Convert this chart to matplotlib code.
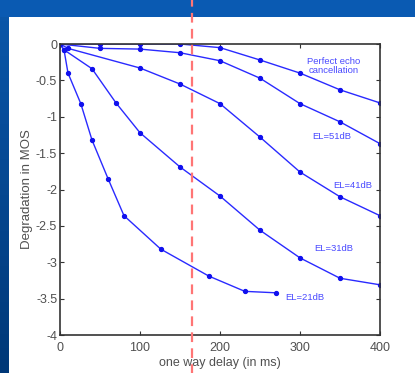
import numpy as np
import matplotlib
matplotlib.use('Agg')
import matplotlib.pyplot as plt
from matplotlib.patches import Rectangle

plt.rcParams['font.family'] = ['Liberation Sans', 'DejaVu Sans']
plt.rcParams['axes.unicode_minus'] = False
plt.rcParams['lines.scale_dashes'] = False

# data (delay in ms, degradation in MOS)
perfect_x = [0, 50, 100, 150, 200, 250, 300, 350, 400]
perfect_y = [0, 0, 0, 0, -0.05, -0.22, -0.40, -0.63, -0.81]

el51_x = [0, 50, 100, 150, 200, 250, 300, 350, 400]
el51_y = [0, -0.06, -0.07, -0.12, -0.23, -0.47, -0.82, -1.07, -1.37]

el41_x = [0, 10, 100, 150, 200, 250, 300, 350, 400]
el41_y = [0, -0.06, -0.33, -0.55, -0.82, -1.28, -1.76, -2.10, -2.36]

el31_x = [0, 5, 40, 70, 100, 150, 200, 250, 300, 350, 400]
el31_y = [0, -0.08, -0.34, -0.81, -1.22, -1.69, -2.09, -2.56, -2.94, -3.22, -3.31]

el21_x = [0, 5, 10, 26, 40, 60, 80, 126, 186, 231, 270]
el21_y = [0, -0.08, -0.40, -0.82, -1.32, -1.85, -2.36, -2.82, -3.19, -3.40, -3.42]

series = [(perfect_x, perfect_y), (el51_x, el51_y), (el41_x, el41_y),
          (el31_x, el31_y), (el21_x, el21_y)]

labels = ['Perfect echo\ncancellation', 'EL=51dB', 'EL=41dB', 'EL=31dB', 'EL=21dB']
label_pos = [(342, -0.30), (340, -1.27), (366, -1.94), (342, -2.81), (306, -3.49)]

xticks = [0, 100, 200, 300, 400]
yticks = [0, -0.5, -1, -1.5, -2, -2.5, -3, -3.5, -4]
ytick_labels = ['0', '-0.5', '-1', '-1.5', '-2', '-2.5', '-3', '-3.5', '-4']

marker_delay = 165

fig = plt.figure(figsize=(4.15, 3.73), dpi=100)
fig.patch.set_facecolor('white')

# blue slide frame
fig.patches.append(Rectangle((0, 1 - 17 / 373), 1, 17 / 373, transform=fig.transFigure,
                             facecolor='#0a5ab2', edgecolor='none', zorder=-2))
sax = fig.add_axes([0, 0, 8 / 415, 1 - 17 / 373], zorder=-1)
grad = np.linspace(0, 1, 100).reshape(-1, 1)
sax.imshow(grad, aspect='auto', cmap=matplotlib.colors.LinearSegmentedColormap.from_list(
    'b', ['#0a56a8', '#003878']), extent=[0, 1, 0, 1])
sax.axis('off')

ax = fig.add_axes([60 / 415, 38 / 373, 320 / 415, 291 / 373])

for (x, y) in series:
    ax.plot(x, y, color='#2a2aff', lw=1.0, marker='o', ms=2.8, mec='#1010ee', mfc='#1010ee')

for txt, (tx, ty) in zip(labels, label_pos):
    ax.text(tx, ty, txt, color='#4a4aff', fontsize=6.8, ha='center', va='center',
            linespacing=1.05)

ax.axvline(marker_delay, ymin=-0.135, ymax=1.16, clip_on=False, color='#ff7575',
           lw=1.6, dashes=(7, 4.5), zorder=5)

ax.set_xlim(0, 400)
ax.set_ylim(-4, 0)
ax.set_xticks(xticks)
ax.set_yticks(yticks)
ax.set_yticklabels(ytick_labels)
ax.tick_params(direction='in', length=3, width=0.8, top=True, right=True,
               labelsize=9, labelcolor='#505050', color='#333333')
ax.tick_params(axis='x', pad=5)
ax.tick_params(axis='y', pad=2)
for s in ax.spines.values():
    s.set_color('#333333')
    s.set_linewidth(1.2)

ax.set_xlabel('one way delay (in ms)', fontsize=9, color='#505050', labelpad=2)
ax.set_ylabel('Degradation in MOS', fontsize=9.5, color='#505050', labelpad=2)

fig.savefig('out.png', dpi=100)
